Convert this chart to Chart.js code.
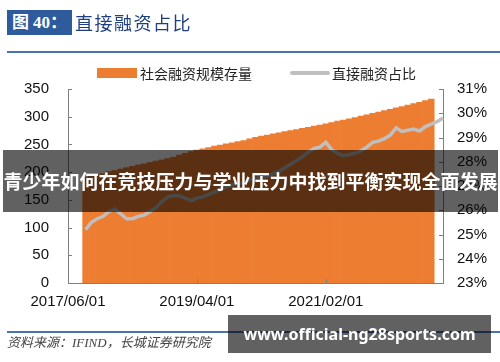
<!DOCTYPE html>
<html>
<head>
<meta charset="utf-8">
<script src="https://cdn.jsdelivr.net/npm/chart.js@4"></script>
<style>
  body{margin:0;background:#fff;}
  #wrap{position:relative;width:500px;height:362px;overflow:hidden;font-family:"Noto Sans CJK SC",sans-serif;}
  #chart{position:absolute;left:0;top:0;}
  .abs{position:absolute;white-space:nowrap;}
  #fig-no{left:7px;top:10px;width:65px;height:25px;background:#2D5B9B;color:#fff;font:bold 17px "Liberation Serif","Noto Sans CJK SC";line-height:25px;text-align:center;}
  #fig-title{left:75px;top:10px;height:25px;line-height:25px;color:#1F3F7F;font-size:18px;letter-spacing:1.5px;}
  .rule{left:7px;width:493px;height:2px;background:#4A72B0;}
  .leg-txt{font-size:14px;color:#222;line-height:16px;top:65px;}
  #banner{left:3px;top:150px;width:495px;height:62px;background:rgba(0,0,0,0.62);color:#fff;font-weight:bold;font-size:19px;line-height:62px;text-align:center;z-index:5;}
  #src{left:7px;top:335px;font:italic 13px "Liberation Serif","Noto Sans CJK SC";color:#444;line-height:16px;}
  #wm{left:228px;top:315px;width:263px;height:38px;background:rgba(0,0,0,0.62);color:#fff;font:bold 16px "Noto Sans",sans-serif;line-height:38px;text-align:center;z-index:5;}
</style>
</head>
<body>
<div id="wrap">
  <canvas id="chart" width="500" height="362"></canvas>
  <div class="abs" id="fig-no">图 40：</div>
  <div class="abs" id="fig-title">直接融资占比</div>
  <div class="abs rule" style="top:51px"></div>
  <div class="abs" style="left:97px;top:68px;width:40px;height:10px;background:#ED7D31"></div>
  <div class="abs leg-txt" style="left:140px">社会融资规模存量</div>
  <div class="abs" style="left:290px;top:71px;width:40px;height:4px;border-radius:2px;background:#BFBFBF"></div>
  <div class="abs leg-txt" style="left:332px">直接融资占比</div>
  <div class="abs" id="banner">青少年如何在竞技压力与学业压力中找到平衡实现全面发展</div>
  <div class="abs rule" style="top:331px"></div>
  <div class="abs" id="src">资料来源：IFIND，长城证券研究院</div>
  <div class="abs" id="wm">www.official-ng28sports.com</div>
</div>
<script>
// monthly categories, 2017/06 .. 2022/10
const startYear = 2017, startMonth = 6, monthCount = 65;
const shownTicks = ['2017/06/01', '2019/04/01', '2021/02/01'];

// 社会融资规模存量 (万亿元), 2017/09 .. 2022/08
const stockStart = 3;
const stockValues = [
  190, 192.5, 195, 197, 201, 203, 205.5, 208, 210.5, 213,
  215, 217.5, 220, 222, 224.5, 227, 231, 234, 237, 240,
  242, 244.5, 247, 249, 251, 253, 255, 257, 260, 263,
  265, 267, 269, 271, 273, 275, 277, 279, 281, 283,
  285, 287, 289.5, 292, 294, 296, 298.5, 301, 303.5, 306,
  308.5, 311, 313.5, 316, 318.5, 321, 323.5, 326, 329, 332
];

// 直接融资占比 (%), 2017/09 .. 2022/10
const ratioStart = 3;
const ratioValues = [
  25.2, 25.5, 25.65, 25.75, 25.95, 26.05, 25.85, 25.65, 25.65, 25.75,
  25.8, 25.95, 26.1, 26.35, 26.55, 26.6, 26.6, 26.5, 26.4, 26.5,
  26.55, 26.65, 26.75, 26.85, 26.95, 27.05, 27.1, 27.15, 27.25, 27.3,
  27.35, 27.4, 27.5, 27.6, 27.75, 27.9, 28.05, 28.2, 28.4, 28.55,
  28.6, 28.8, 28.5, 28.35, 28.25, 28.3, 28.35, 28.45, 28.6, 28.8,
  28.85, 28.95, 29.1, 29.4, 29.25, 29.3, 29.35, 29.27, 29.45, 29.55,
  29.65, 29.8
];

const labels = [];
for(let i=0;i<monthCount;i++){
  const m = startMonth - 1 + i;
  const y = startYear + Math.floor(m/12);
  labels.push(y + '/' + String(m%12+1).padStart(2,'0') + '/01');
}
function pad(arr, start){
  const out = new Array(monthCount).fill(null);
  arr.forEach((v,i)=>{ out[start+i] = v; });
  return out;
}

const axisColor = '#808080';
const tickFont = {family:'"Liberation Sans", Arial, sans-serif', size:15};

// tick marks drawn inward like the original
const innerTicks = {
  id:'innerTicks',
  afterDraw(chart){
    const {ctx, chartArea:a, scales} = chart;
    ctx.save();
    ctx.strokeStyle = axisColor;
    ctx.lineWidth = 1;
    ctx.beginPath();
    scales.y.ticks.forEach((t,i)=>{ const p = Math.round(scales.y.getPixelForTick(i))+0.5; ctx.moveTo(a.left, p); ctx.lineTo(a.left+4, p); });
    scales.y1.ticks.forEach((t,i)=>{ const p = Math.round(scales.y1.getPixelForTick(i))+0.5; ctx.moveTo(a.right, p); ctx.lineTo(a.right-4, p); });
    labels.forEach((l,i)=>{
      if(shownTicks.includes(l) && i>0){ const p = Math.round(scales.x.getPixelForValue(i))+0.5; ctx.moveTo(p, a.bottom); ctx.lineTo(p, a.bottom-4); }
    });
    ctx.stroke();
    ctx.restore();
  }
};

new Chart(document.getElementById('chart'), {
  data:{
    labels,
    datasets:[
      { type:'line', label:'直接融资占比', data:pad(ratioValues, ratioStart), yAxisID:'y1',
        borderColor:'#BFBFBF', borderWidth:3.5, pointRadius:0, tension:0, order:0, spanGaps:false },
      { type:'bar', label:'社会融资规模存量', data:pad(stockValues, stockStart), yAxisID:'y',
        backgroundColor:'#ED7D31', borderWidth:0, barPercentage:1, categoryPercentage:1, order:1 }
    ]
  },
  options:{
    responsive:false, devicePixelRatio:1, animation:false,
    layout:{padding:{top:89, left:0, right:0, bottom:0}},
    plugins:{legend:{display:false}, tooltip:{enabled:false}},
    scales:{
      x:{
        offset:false,
        grid:{display:false, drawTicks:false},
        border:{display:true, color:axisColor},
        ticks:{autoSkip:false, maxRotation:0, padding:10, color:'#111', font:tickFont,
          callback:(v,i)=> shownTicks.includes(labels[i]) ? labels[i] : ''},
        afterFit:(s)=>{ s.height = 362-283; }
      },
      y:{
        position:'left', min:0, max:350,
        grid:{display:false, drawTicks:false},
        border:{display:true, color:axisColor},
        ticks:{stepSize:50, padding:19, color:'#111', font:tickFont},
        afterFit:(s)=>{ s.width = 68; }
      },
      y1:{
        position:'right', min:23, max:31,
        grid:{display:false, drawTicks:false},
        border:{display:true, color:axisColor},
        ticks:{stepSize:1, padding:14, color:'#111', font:tickFont, callback:v=>v+'%'},
        afterFit:(s)=>{ s.width = 500-443; }
      }
    }
  },
  plugins:[innerTicks]
});
</script>
</body>
</html>
